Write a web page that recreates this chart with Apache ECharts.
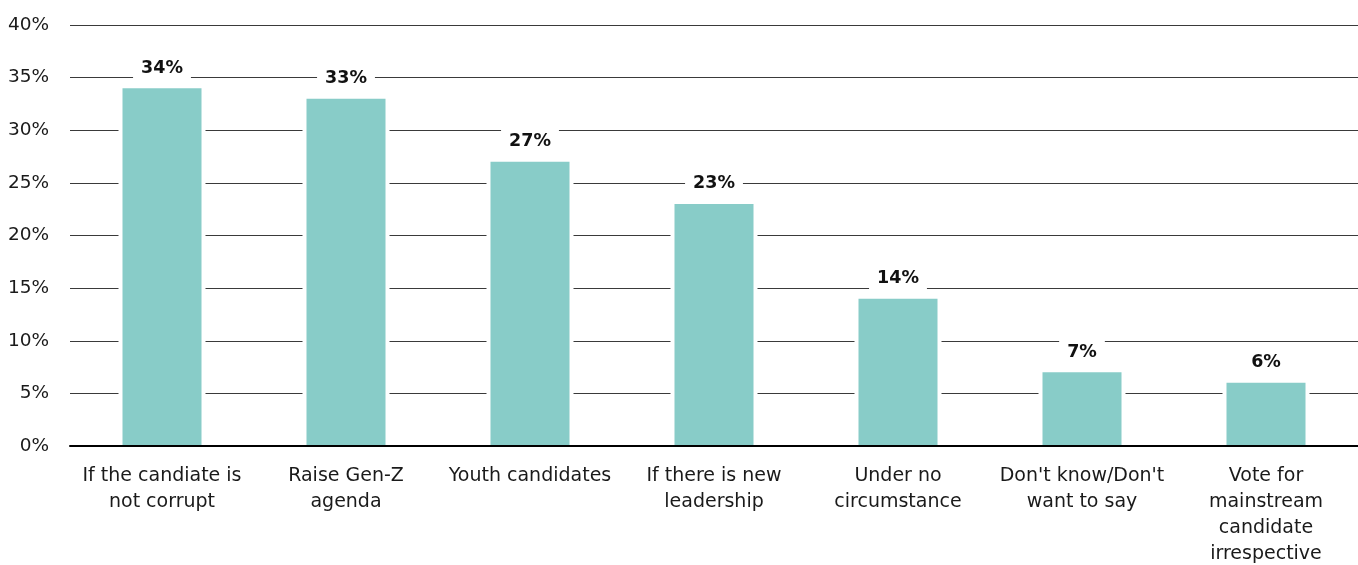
<!DOCTYPE html>
<html>
<head>
<meta charset="utf-8">
<script src="https://cdn.jsdelivr.net/npm/echarts@6/dist/echarts.min.js"></script>
<style>
  html, body { margin: 0; padding: 0; background: #fff; }
  #chart { width: 1358px; height: 565px; }
</style>
</head>
<body>
<div id="chart"></div>
<script>
// Conditions under which respondents would vote (share of respondents, %)
const categories = [
  'If the candiate is\nnot corrupt',
  'Raise Gen-Z\nagenda',
  'Youth candidates',
  'If there is new\nleadership',
  'Under no\ncircumstance',
  "Don't know/Don't\nwant to say",
  'Vote for\nmainstream\ncandidate\nirrespective'
];
const values = [34, 33, 27, 23, 14, 7, 6];
const yTicks = { min: 0, max: 40, interval: 5 };

const FONT = 'DejaVu Sans';
const BAR_W = 79;
const HALO = 4; // white margin that breaks the gridlines beside each bar

const chart = echarts.init(document.getElementById('chart'), null, { renderer: 'canvas' });

chart.setOption({
  animation: false,
  backgroundColor: '#ffffff',
  grid: { left: 70, right: 0, top: 25, bottom: 119, containLabel: false, outerBoundsMode: 'none' },
  xAxis: {
    type: 'category',
    data: categories,
    z: 5,
    axisLine: { show: true, lineStyle: { color: '#000', width: 2 } },
    axisTick: { show: false },
    axisLabel: {
      interval: 0,
      margin: 17,
      color: '#1a1a1a',
      fontFamily: FONT,
      fontSize: 19,
      lineHeight: 26,
      align: 'center'
    }
  },
  yAxis: {
    type: 'value',
    min: yTicks.min,
    max: yTicks.max,
    interval: yTicks.interval,
    axisLine: { show: false },
    axisTick: { show: false },
    axisLabel: {
      margin: 21,
      color: '#1a1a1a',
      fontFamily: FONT,
      fontSize: 18.5,
      formatter: v => v + '%'
    },
    splitLine: { lineStyle: { color: '#3a3a3a', width: 1 } }
  },
  series: [
    {
      // white band behind each bar, slightly wider than the bar
      type: 'custom',
      z: 1,
      silent: true,
      data: values.map((v, i) => [i, v]),
      renderItem: (params, api) => {
        const top = api.coord([api.value(0), api.value(1)]);
        const base = api.coord([api.value(0), 0]);
        const w = BAR_W + HALO * 2;
        return {
          type: 'rect',
          shape: { x: top[0] - w / 2, y: top[1], width: w, height: base[1] - top[1] },
          style: { fill: '#ffffff' }
        };
      }
    },
    {
      type: 'bar',
      z: 2,
      data: values,
      barWidth: BAR_W,
      itemStyle: { color: '#88CCC8' },
      label: {
        show: true,
        position: 'top',
        distance: 8,
        formatter: p => p.value + '%',
        color: '#111',
        fontFamily: FONT,
        fontSize: 17.5,
        fontWeight: 'bold',
        backgroundColor: '#ffffff',
        padding: [3, 8]
      }
    }
  ]
});
</script>
</body>
</html>
